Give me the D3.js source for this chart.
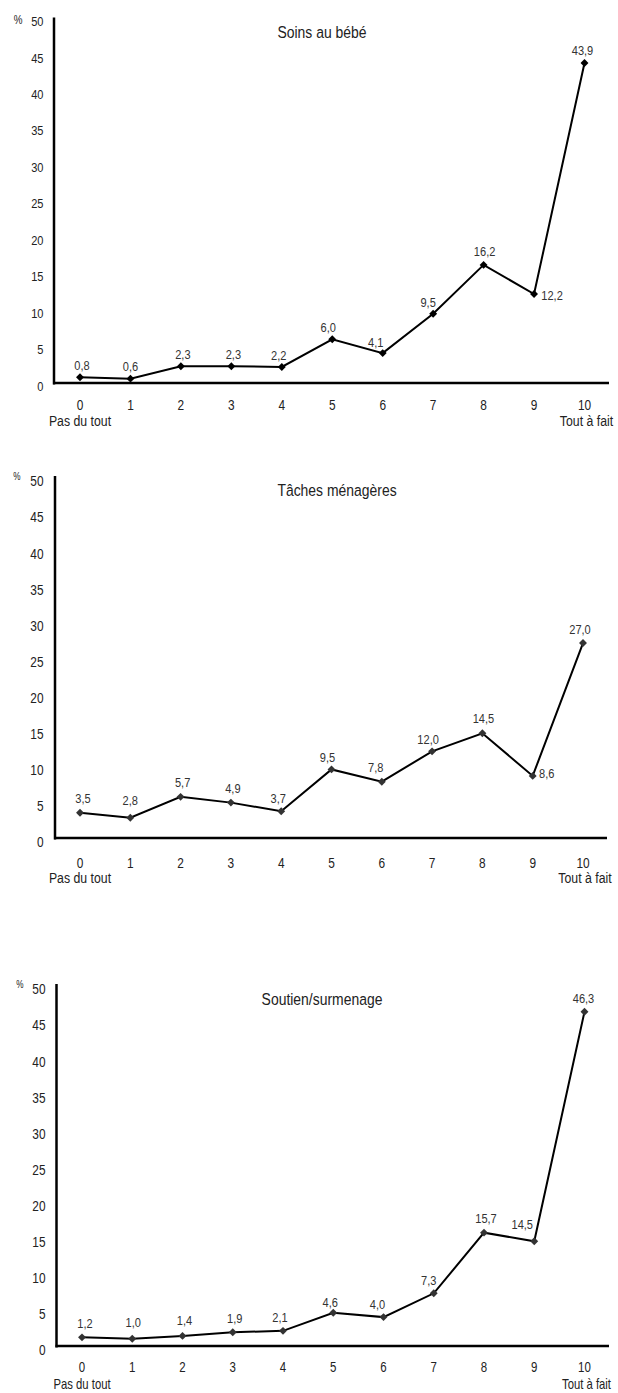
<!DOCTYPE html>
<html>
<head>
<meta charset="utf-8">
<script src="https://cdn.jsdelivr.net/npm/d3@7"></script>
<style>
  html, body { margin: 0; padding: 0; background: #fff; }
  svg { display: block; }
  text { font-family: "Liberation Sans Narrow", "Arial Narrow", "Liberation Sans", Arial, sans-serif; }
</style>
</head>
<body>
<svg id="chart" width="618" height="1393"></svg>
<script>
// ---- data ----
const categories = [0, 1, 2, 3, 4, 5, 6, 7, 8, 9, 10];
const yTicks = [0, 5, 10, 15, 20, 25, 30, 35, 40, 45, 50];
const titles = ["Soins au bébé", "Tâches ménagères", "Soutien/surmenage"];
const soinsBebe = [0.8, 0.6, 2.3, 2.3, 2.2, 6.0, 4.1, 9.5, 16.2, 12.2, 43.9];
const tachesMenageres = [3.5, 2.8, 5.7, 4.9, 3.7, 9.5, 7.8, 12.0, 14.5, 8.6, 27.0];
const soutienSurmenage = [1.2, 1.0, 1.4, 1.9, 2.1, 4.6, 4.0, 7.3, 15.7, 14.5, 46.3];
const leftEndLabel = "Pas du tout";
const rightEndLabel = "Tout à fait";
const unitLabel = "%";

// ---- layout (positions only) ----
const layout = [
  { axisX: 54, y0: 383, y50: 18.5, x0: 80, x10: 584.5, axisRight: 609, tickY: 406, tickSize: 14.5, endY: 422, endSize: 15,
    titleX: 322, titleY: 34, pctX: 18, pctY: 21, pctSize: 12, yLabelRight: 43.5, yLabelDy: 4, yLabelSize: 13.5, markerFill: "#000",
    lab: [[2,-11],[0,-11],[2,-11],[2,-11],[-3,-11],[-4,-11],[-7,-10],[-5,-10],[1,-12],[18,2],[-2,-12]] },
  { axisX: 55, y0: 838, y50: 477, x0: 80, x10: 583, axisRight: 607, tickY: 864, tickSize: 14.5, endY: 879, endSize: 15,
    titleX: 337, titleY: 492, pctX: 17, pctY: 477, pctSize: 10, yLabelRight: 43.5, yLabelDy: 5.5, yLabelSize: 14.5, markerFill: "#333",
    lab: [[3,-13],[0,-16],[2,-13],[2,-13],[-3,-12],[-4,-11],[-6,-13],[-4,-11],[1,-14],[14,-1],[-3,-13]] },
  { axisX: 56.5, y0: 1346, y50: 985, x0: 82, x10: 584.5, axisRight: 609, tickY: 1368.5, tickSize: 14, endY: 1385, endSize: 13.8,
    titleX: 322, titleY: 1001, pctX: 20, pctY: 985, pctSize: 10, yLabelRight: 45.5, yLabelDy: 5.5, yLabelSize: 14.5, markerFill: "#333",
    lab: [[3,-13],[1,-15],[2,-14],[2,-13],[-3,-12],[-3,-9],[-6,-12],[-5,-12],[2,-13],[-12,-16],[-1,-12]] }
];
const NARROW = 0.82;

const series = [soinsBebe, tachesMenageres, soutienSurmenage];
const svg = d3.select("#chart");
const fmt = v => d3.format(".1f")(v).replace(".", ",");
const place = (px, py) => `translate(${px},${py}) scale(${NARROW},1)`;

series.forEach((values, i) => {
  const L = layout[i];
  const g = svg.append("g");
  const x = d3.scaleLinear().domain([0, 10]).range([L.x0, L.x10]);
  const y = d3.scaleLinear().domain([0, 50]).range([L.y0, L.y50]);

  // y axis line
  g.append("line").attr("x1", L.axisX).attr("x2", L.axisX)
    .attr("y1", y(50) - 1).attr("y2", y(0) + 1.5)
    .attr("stroke", "#000").attr("stroke-width", 2.5);
  // x axis line
  g.append("line").attr("x1", L.axisX - 1).attr("x2", L.axisRight)
    .attr("y1", y(0)).attr("y2", y(0))
    .attr("stroke", "#000").attr("stroke-width", 2.5);

  // y tick labels
  g.selectAll(".yt").data(yTicks).join("text")
    .attr("transform", d => place(L.yLabelRight, y(d) + L.yLabelDy))
    .attr("text-anchor", "end").attr("dominant-baseline", "middle")
    .attr("font-size", L.yLabelSize).attr("fill", "#222")
    .text(d => d);

  // unit
  g.append("text").attr("transform", place(L.pctX, L.pctY))
    .attr("text-anchor", "middle").attr("dominant-baseline", "middle")
    .attr("font-size", L.pctSize).attr("fill", "#222").text(unitLabel);

  // x tick labels
  g.selectAll(".xt").data(categories).join("text")
    .attr("transform", d => place(x(d), L.tickY))
    .attr("text-anchor", "middle").attr("dominant-baseline", "middle")
    .attr("font-size", L.tickSize).attr("fill", "#222")
    .text(d => d);

  // end labels
  g.append("text").attr("transform", place(x(0), L.endY))
    .attr("text-anchor", "middle").attr("dominant-baseline", "middle")
    .attr("font-size", L.endSize).attr("fill", "#222").text(leftEndLabel);
  g.append("text").attr("transform", place(x(10) + 2, L.endY))
    .attr("text-anchor", "middle").attr("dominant-baseline", "middle")
    .attr("font-size", L.endSize).attr("fill", "#222").text(rightEndLabel);

  // title
  g.append("text").attr("transform", place(L.titleX, L.titleY))
    .attr("text-anchor", "middle").attr("dominant-baseline", "middle")
    .attr("font-size", 17).attr("fill", "#222").text(titles[i]);

  // line
  const line = d3.line().x((d, k) => x(categories[k])).y(d => y(d));
  g.append("path").datum(values).attr("d", line)
    .attr("fill", "none").attr("stroke", "#000").attr("stroke-width", 2)
    .attr("stroke-linejoin", "miter");

  // markers (diamonds)
  const diamond = d3.symbol().type(d3.symbolDiamond2).size(40);
  g.selectAll(".mk").data(values).join("path")
    .attr("d", diamond)
    .attr("transform", (d, k) => `translate(${x(categories[k])},${y(d)})`)
    .attr("fill", L.markerFill);

  // value labels
  g.selectAll(".vl").data(values).join("text")
    .attr("transform", (d, k) => place(x(categories[k]) + L.lab[k][0], y(d) + L.lab[k][1]))
    .attr("text-anchor", "middle").attr("dominant-baseline", "middle")
    .attr("font-size", 13.5).attr("fill", "#333")
    .text(d => fmt(d));
});
</script>
</body>
</html>
